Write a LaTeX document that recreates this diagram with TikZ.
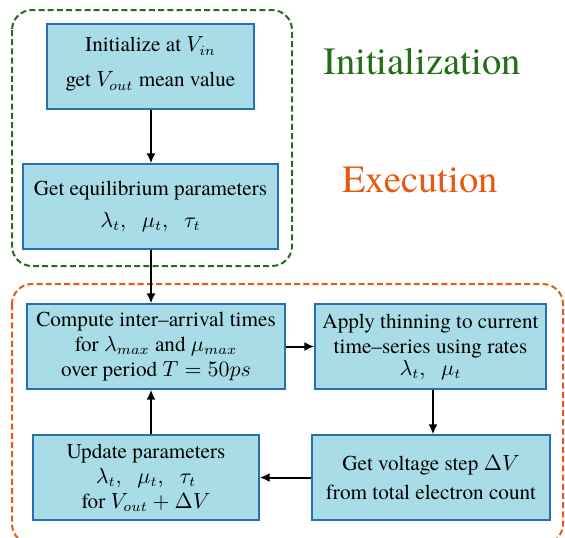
\documentclass[tikz,border=0pt]{standalone}
\usepackage[no-math]{fontspec}
\setmainfont{TeX Gyre Termes}
\usetikzlibrary{arrows.meta}
\definecolor{boxfill}{RGB}{168,220,230}
\definecolor{boxedge}{RGB}{40,110,180}
\definecolor{initgreen}{RGB}{35,110,22}
\definecolor{execorange}{RGB}{232,88,16}
\tikzset{
  stepbox/.style={draw=boxedge, line width=0.6pt, fill=boxfill, align=center, inner sep=0pt, font=\fontsize{10.6}{12.5}\selectfont},
  flow/.style={line width=1pt, -{Latex[length=5pt,width=4.5pt]}},
  groupbox/.style={line width=1pt, rounded corners=10pt, dash pattern=on 3pt off 1.6pt},
}
\begin{document}
\begin{tikzpicture}[x=0.5pt,y=-0.5pt]
\useasboundingbox (0,0) rectangle (565,537);
% group frames
\draw[groupbox, draw=initgreen] (12,10) rectangle (292,266);
\draw[groupbox, draw=execorange] (12,284) rectangle (563,544);
% titles
\node[anchor=base, text=initgreen, font=\fontsize{19.3}{22}\selectfont, inner sep=0pt] (tinit) at (422,74) {Initialization};
\node[anchor=base, text=execorange, font=\fontsize{19.3}{22}\selectfont, inner sep=0pt] (texec) at (420,192) {Execution};
% boxes
\node[stepbox, minimum width=103.5pt, minimum height=42.5pt] (A) at (150.5,66.5)
  {Initialize at $V_{in}$\\[5pt] get $V_{out}$ mean value\\[-8pt]};
\node[stepbox, minimum width=127.5pt, minimum height=42.5pt] (B) at (150.5,206.5)
  {Get equilibrium parameters\\[3.5pt] $\lambda_t,\;\;\mu_t,\;\;\tau_t$};
\node[stepbox, minimum width=129pt, minimum height=42.5pt] (C) at (156,346.5)
  {Compute inter–arrival times\\ for $\lambda_{max}$ and $\mu_{max}$\\ over period $T=50ps$};
\node[stepbox, minimum width=113pt, minimum height=42.5pt] (D) at (146,477.5)
  {Update parameters\\ $\lambda_t,\;\;\mu_t,\;\;\tau_t$\\ for $V_{out}+\Delta V$};
\node[stepbox, minimum width=115.5pt, minimum height=42.5pt] (E) at (430.5,346.5)
  {Apply thinning to current\\ time–series using rates\\[-1.5pt] $\lambda_t,\;\;\mu_t$};
\node[stepbox, minimum width=119pt, minimum height=42.5pt] (F) at (431,477.5)
  {Get voltage step $\Delta V$\\[2pt] from total electron count};
% connectors
\coordinate (bx) at (151,0);
\coordinate (ex) at (433,0);
\draw[flow] (A.south -| bx) -- (B.north -| bx);
\draw[flow] (B.south -| bx) -- (C.north -| bx);
\draw[flow] (D.north -| bx) -- (C.south -| bx);
\draw[flow] (C.east) -- (E.west |- C.east);
\draw[flow] (E.south -| ex) -- (F.north -| ex);
\draw[flow] (F.west) -- (D.east |- F.west);
\end{tikzpicture}
\end{document}
